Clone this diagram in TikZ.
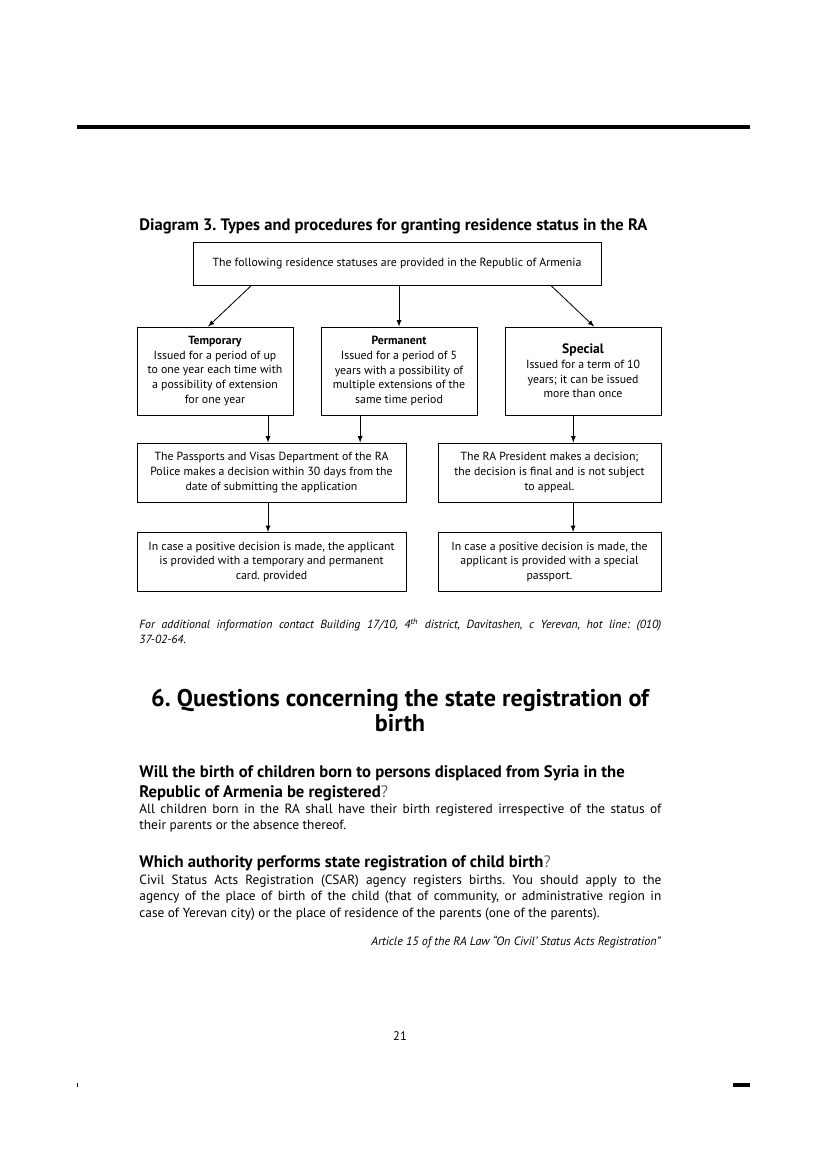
\documentclass[tikz,border=0pt]{standalone}
\usepackage{fontspec}
\setmainfont{PT Sans}
\usepackage{tikz}
\usetikzlibrary{positioning}
\frenchspacing
\tikzstyle{statbox}=[draw, align=center, inner sep=2pt, font=\fontsize{8.5}{10.5}\selectfont]
\tikzstyle{headbox}=[statbox, minimum width=293.8pt, minimum height=31pt]
\tikzstyle{typebox}=[statbox, minimum width=112.3pt, minimum height=63.4pt, node distance=132.5pt]
\tikzstyle{leftbox}=[statbox, minimum width=193.7pt, minimum height=42.5pt, node distance=64.4pt]
\tikzstyle{rightbox}=[statbox, minimum width=160.6pt, minimum height=42.5pt, node distance=64.4pt]
\tikzstyle{textbox}=[anchor=base west, inner sep=0pt, text width=375.8pt, align=justify]
\tikzstyle{bodytext}=[textbox, font=\fontsize{9.6}{12.2}\selectfont]
\tikzstyle{question}=[textbox, font=\bfseries\fontsize{12}{14.4}\selectfont]

\begin{document}
\begin{tikzpicture}[x=0.72pt, y=-0.72pt, >=latex, line width=0.6pt]
    \useasboundingbox (0,0) rectangle (827,1169);
    \draw[line width=2.9pt] (77,127) -- (750,127);
    \fill (76.7,1082.7) rectangle (78.3,1087.3);
    \fill (733,1083.3) rectangle (750,1087.3);

    \node (title) [anchor=base west, inner sep=0pt, font=\bfseries\fontsize{11.9}{13}\selectfont] at (139,230)
        {Diagram 3. Types and procedures for granting residence status in the RA};
    %
    \node (statuses) [headbox] at (397,264) {The following residence statuses are provided in the Republic of Armenia};
    \node (temp) [typebox] at (215,371) {\textbf{Temporary}\\Issued for a period of up\\to one year each time with\\a possibility of extension\\for one year};
    \node (perm) [typebox, right of=temp] {\textbf{Permanent}\\Issued for a period of 5\\years with a possibility of\\multiple extensions of the\\same time period};
    \node (spec) [typebox, right of=perm] {{\bfseries\fontsize{9.8}{12}\selectfont Special}\\Issued for a term of 10\\years; it can be issued\\more than once};
    %
    \node (police) [leftbox] at (271.5,472.5) {The Passports and Visas Department of the RA\\Police makes a decision within 30 days from the\\date of submitting the application};
    \node (president) [rightbox] at (549.5,472.5) {The RA President makes a decision;\\the decision is final and is not subject\\to appeal.};
    \node (card) [leftbox, below of=police] {In case a positive decision is made, the applicant\\is provided with a temporary and permanent\\card. provided};
    \node (passport) [rightbox, below of=president] {In case a positive decision is made, the\\applicant is provided with a special\\passport.};

    \draw [->] ([xshift=42pt]statuses.south west) -- ([xshift=-5pt]temp.north);
    \draw [->] (perm.north |- statuses.south) -- (perm.north);
    \draw [->] ([xshift=-36pt]statuses.south east) -- ([xshift=8pt]spec.north);
    \draw [->] ([xshift=-2.5pt]police.north |- temp.south) -- ([xshift=-2.5pt]police.north);
    \draw [->] ([xshift=-28pt]perm.south) -- ([xshift=-28pt]perm.south |- police.north);
    \draw [->] ([xshift=-7pt]spec.south) -- ([xshift=-7pt]spec.south |- president.north);
    \draw [->] ([xshift=-2.5pt]police.south) -- ([xshift=-2.5pt]card.north);
    \draw [->] ([xshift=17pt]president.south) -- ([xshift=17pt]passport.north);
    %
    \node (note) [textbox, font=\itshape\fontsize{8.5}{11.5}\selectfont] at (139,628)
        {For additional information contact Building 17/10, 4\textsuperscript{th} district, Davitashen, c Yerevan, hot line: (010)\linebreak 37-02-64.};
    \node (heading) [anchor=base, align=center, inner sep=0pt, font=\bfseries\fontsize{17.4}{18}\selectfont] at (400,731)
        {6. Questions concerning the state registration of\\birth};
    \node (q1) [question] at (139,777) {Will the birth of children born to persons displaced from Syria in the\\Republic of Armenia be registered{\mdseries\color{black!60}?}};
    \node (a1) [bodytext] at (139,813) {All children born in the RA shall have their birth registered irrespective of the status of\linebreak their parents or the absence thereof.};
    \node (q2) [question] at (139,867) {Which authority performs state registration of child birth{\mdseries\color{black!60}?}};
    \node (a2) [bodytext] at (139,884) {Civil Status Acts Registration (CSAR) agency registers births. You should apply to the\linebreak agency of the place of birth of the child (that of community, or administrative region in\linebreak case of Yerevan city) or the place of residence of the parents (one of the parents).};
    \node (article) [anchor=base east, inner sep=0pt, font=\itshape\fontsize{8.7}{11}\selectfont] at (661,945)
        {Article 15 of the RA Law “On Civil’ Status Acts Registration”};
    \node (pageno) [anchor=base, inner sep=0pt, font=\fontsize{9}{11}\selectfont] at (400,1040) {21};
\end{tikzpicture}
\end{document}
